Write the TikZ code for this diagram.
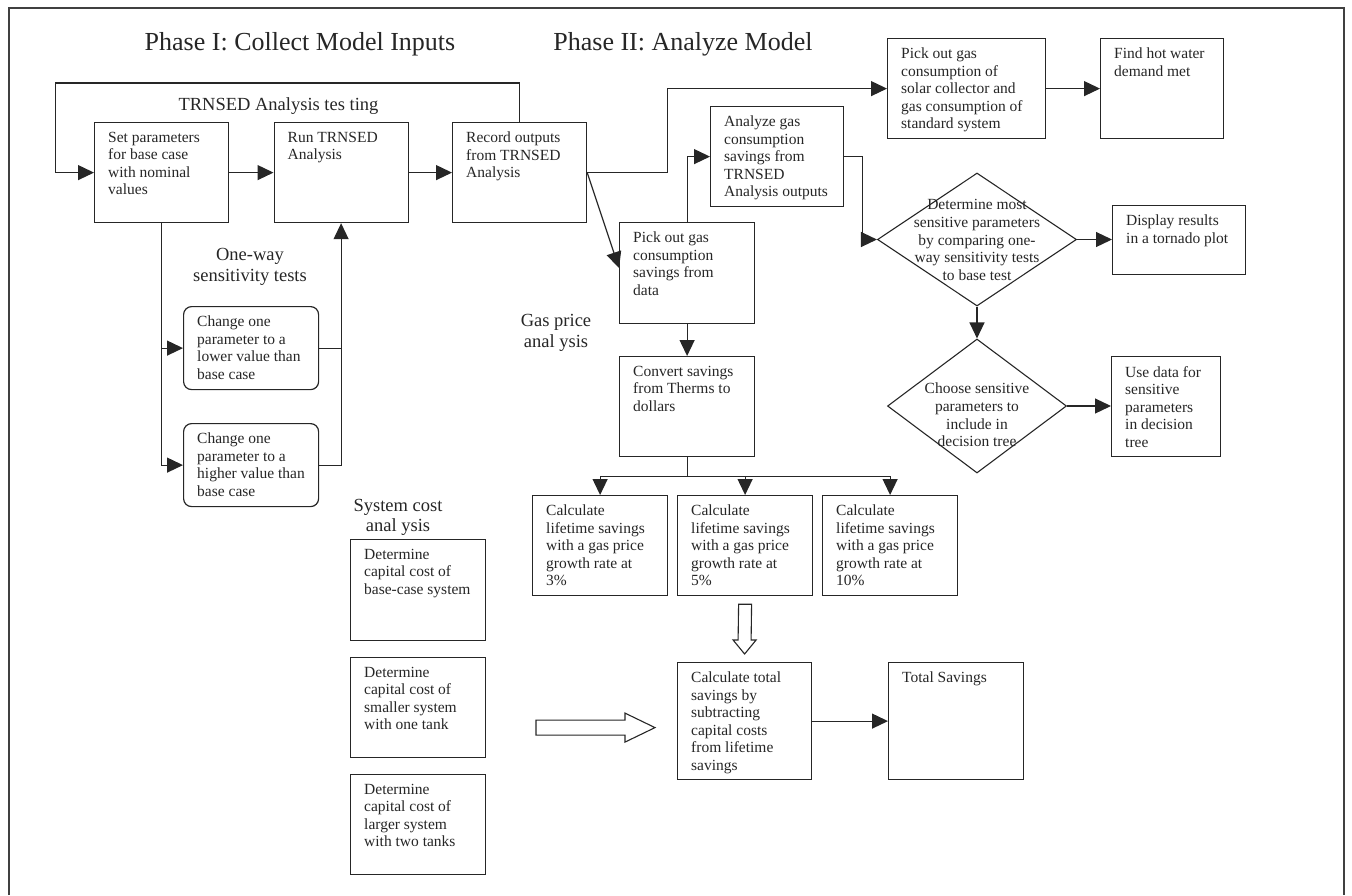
\documentclass[tikz,border=0pt]{standalone}
\usepackage{fontspec}
\setmainfont{Liberation Serif}
\usetikzlibrary{arrows.meta,calc,shapes.geometric}
\newcommand{\flowbox}[6][]{%
  \node[box,#1,minimum width=#5,minimum height=#6] (#2) at (#3) {};
  \node[txt] at ($(#2.north west)+(14,10)$) {#4};}
\begin{document}
\begin{tikzpicture}[x=1pt,y=-1pt,
  ink/.style={draw=black!85},
  box/.style={ink, line width=1.2pt, inner sep=0pt, anchor=north west},
  rbox/.style={rounded corners=8pt},
  dia/.style={ink, line width=1.1pt, diamond, inner sep=0pt},
  txt/.style={anchor=north west, align=left, inner sep=0pt, text=black!85,
    font=\fontsize{15.5}{17.5}\selectfont},
  dtxt/.style={align=center, inner sep=0pt, text=black!85,
    font=\fontsize{15.5}{17.6}\selectfont},
  lbl/.style={align=center, inner sep=0pt, text=black!85,
    font=\fontsize{18.5}{20.5}\selectfont},
  ttl/.style={inner sep=0pt, text=black!85, font=\fontsize{26}{30}\selectfont},
  conn/.style={ink, line width=1.2pt},
  arr/.style={conn, -{Triangle[length=16pt,width=15pt]}},
  hollow/.style={ink, line width=1.1pt, fill=white},
  frame/.style={draw=black!75, line width=1.3pt}
]
\useasboundingbox (0,0) rectangle (1352,895);
\draw[frame] (9,895) -- (9,8) -- (1344,8) -- (1344,895);

% titles and labels
\node[ttl] (t1) at (300,44) {Phase I: Collect Model Inputs};
\node[ttl] (t2) at (683,44) {Phase II: Analyze Model};
\node[lbl] (lt) at (278.5,106.5) {TRNSED Analysis tes ting};
\node[lbl] (lo) at (250,267) {One-way\\sensitivity tests};
\node[lbl] (lg) at (556,333) {Gas price\\anal ysis};
\node[lbl] (ls) at (398,517.5) {System cost\\anal ysis};

% boxes
\flowbox{b1}{94,122}{Set parameters\\for base case\\with nominal\\values}{134}{100}
\flowbox{b2}{273.5,122}{Run TRNSED\\Analysis}{134}{100}
\flowbox{b3}{452,122}{Record outputs\\from TRNSED\\Analysis}{134}{100}
\flowbox{ps}{887,38}{Pick out gas\\consumption of\\solar collector and\\gas consumption of\\standard system}{158}{100}
\flowbox{fh}{1100,38}{Find hot water\\demand met}{123}{100}
\flowbox{an}{710,106}{Analyze gas\\consumption\\savings from\\TRNSED\\Analysis outputs}{133}{100}
\flowbox{psv}{619,222}{Pick out gas\\consumption\\savings from\\data}{135}{101}
\flowbox{disp}{1112,205}{Display results\\in a tornado plot}{133}{69}
\flowbox{ud}{1111,356}{Use data for\\sensitive\\parameters\\in decision\\tree}{109}{100}
\flowbox{cv}{619,356}{Convert savings\\from Therms to\\dollars}{135}{100}
\flowbox{c1}{532,495}{Calculate\\lifetime savings\\with a gas price\\growth rate at\\3\%}{135}{100}
\flowbox{c2}{677,495}{Calculate\\lifetime savings\\with a gas price\\growth rate at\\5\%}{135}{100}
\flowbox{c3}{822,495}{Calculate\\lifetime savings\\with a gas price\\growth rate at\\10\%}{135}{100}
\flowbox[rbox]{r1}{183,306}{Change one\\parameter to a\\lower value than\\base case}{135}{83}
\flowbox[rbox]{r2}{183,423}{Change one\\parameter to a\\higher value than\\base case}{135}{83}
\flowbox{dt1}{350,539}{Determine\\capital cost of\\base-case system}{135}{101}
\flowbox{dt2}{350,657}{Determine\\capital cost of\\smaller system\\with one tank}{135}{100}
\flowbox{dt3}{350,774}{Determine\\capital cost of\\larger system\\with two tanks}{135}{100}
\flowbox{ct}{677,662}{Calculate total\\savings by\\subtracting\\capital costs\\from lifetime\\savings}{134}{117}
\flowbox{ts}{888,662}{Total Savings}{135}{117}

% diamonds
\node[dia, minimum width=199, minimum height=133] (d1) at (977,239.5) {};
\node[dtxt] at (977,240) {Determine most\\sensitive parameters\\by comparing one-\\way sensitivity tests\\to base test};
\node[dia, minimum width=179, minimum height=134] (d2) at (977,406) {};
\node[dtxt] at (977,415) {Choose sensitive\\parameters to\\include in\\decision tree};

% Phase I connectors
\coordinate (loopL) at (55.5,83);
\draw[arr] (b3.north) -- (b3.north |- loopL) -- (loopL) |- (b1.west);
\draw[arr] (b1.east) -- (b2.west);
\draw[arr] (b2.east) -- (b3.west);
\draw[arr] (b1.south) |- (r2.west);
\draw[arr] (b1.south |- r1.west) -- (r1.west);
\draw[arr] (r2.east) -| (b2.south);
\draw[conn] (r1.east) -- (r1.east -| b2.south);

% Phase II connectors
\draw[arr] (b3.east) -- ([xshift=80pt]b3.east) |- (ps.west);
\draw[arr] (ps.east) -- (fh.west);
\draw[arr] (b3.east) -- ($(psv.north west)+(0,46)$);
\draw[arr] (psv.north) |- (an.west);
\draw[arr] (an.east) -- ++(18,0) |- (d1.west);
\draw[arr] (d1.east) -- (d1.east -| disp.west);
\draw[arr] (d1.south) -- (d2.north);
\draw[arr] (d2.east) -- (d2.east -| ud.west);
\draw[arr] (psv.south) -- (cv.north);
\draw[conn] (cv.south) -- ++(0,19) coordinate (tj);
\draw[arr] (tj) -| (c1.north);
\draw[arr] (tj) -| (c3.north);
\draw[arr] (c2.north |- tj) -- (c2.north);
\draw[arr] (ct.east) -- (ct.east -| ts.west);

% hollow block arrows
\coordinate (ha1) at ($(c2.south)+(0,8)$);
\coordinate (ha2) at ($(ct.north)+(0,-8)$);
\draw[hollow] ($(ha1)+(-6.5,0)$) -- ($(ha2)+(-6.5,-14)$) -- ($(ha2)+(-11.5,-14)$)
  -- (ha2) -- ($(ha2)+(11.5,-14)$) -- ($(ha2)+(6.5,-14)$) -- ($(ha1)+(6.5,0)$) -- cycle;
\coordinate (hb) at ($(ct.west)+(-22,6.5)$);
\draw[hollow] ($(hb)+(-119,-7.5)$) -- ($(hb)+(-30,-7.5)$) -- ($(hb)+(-30,-14.5)$)
  -- (hb) -- ($(hb)+(-30,14.5)$) -- ($(hb)+(-30,7.5)$) -- ($(hb)+(-119,7.5)$) -- cycle;
\end{tikzpicture}
\end{document}
